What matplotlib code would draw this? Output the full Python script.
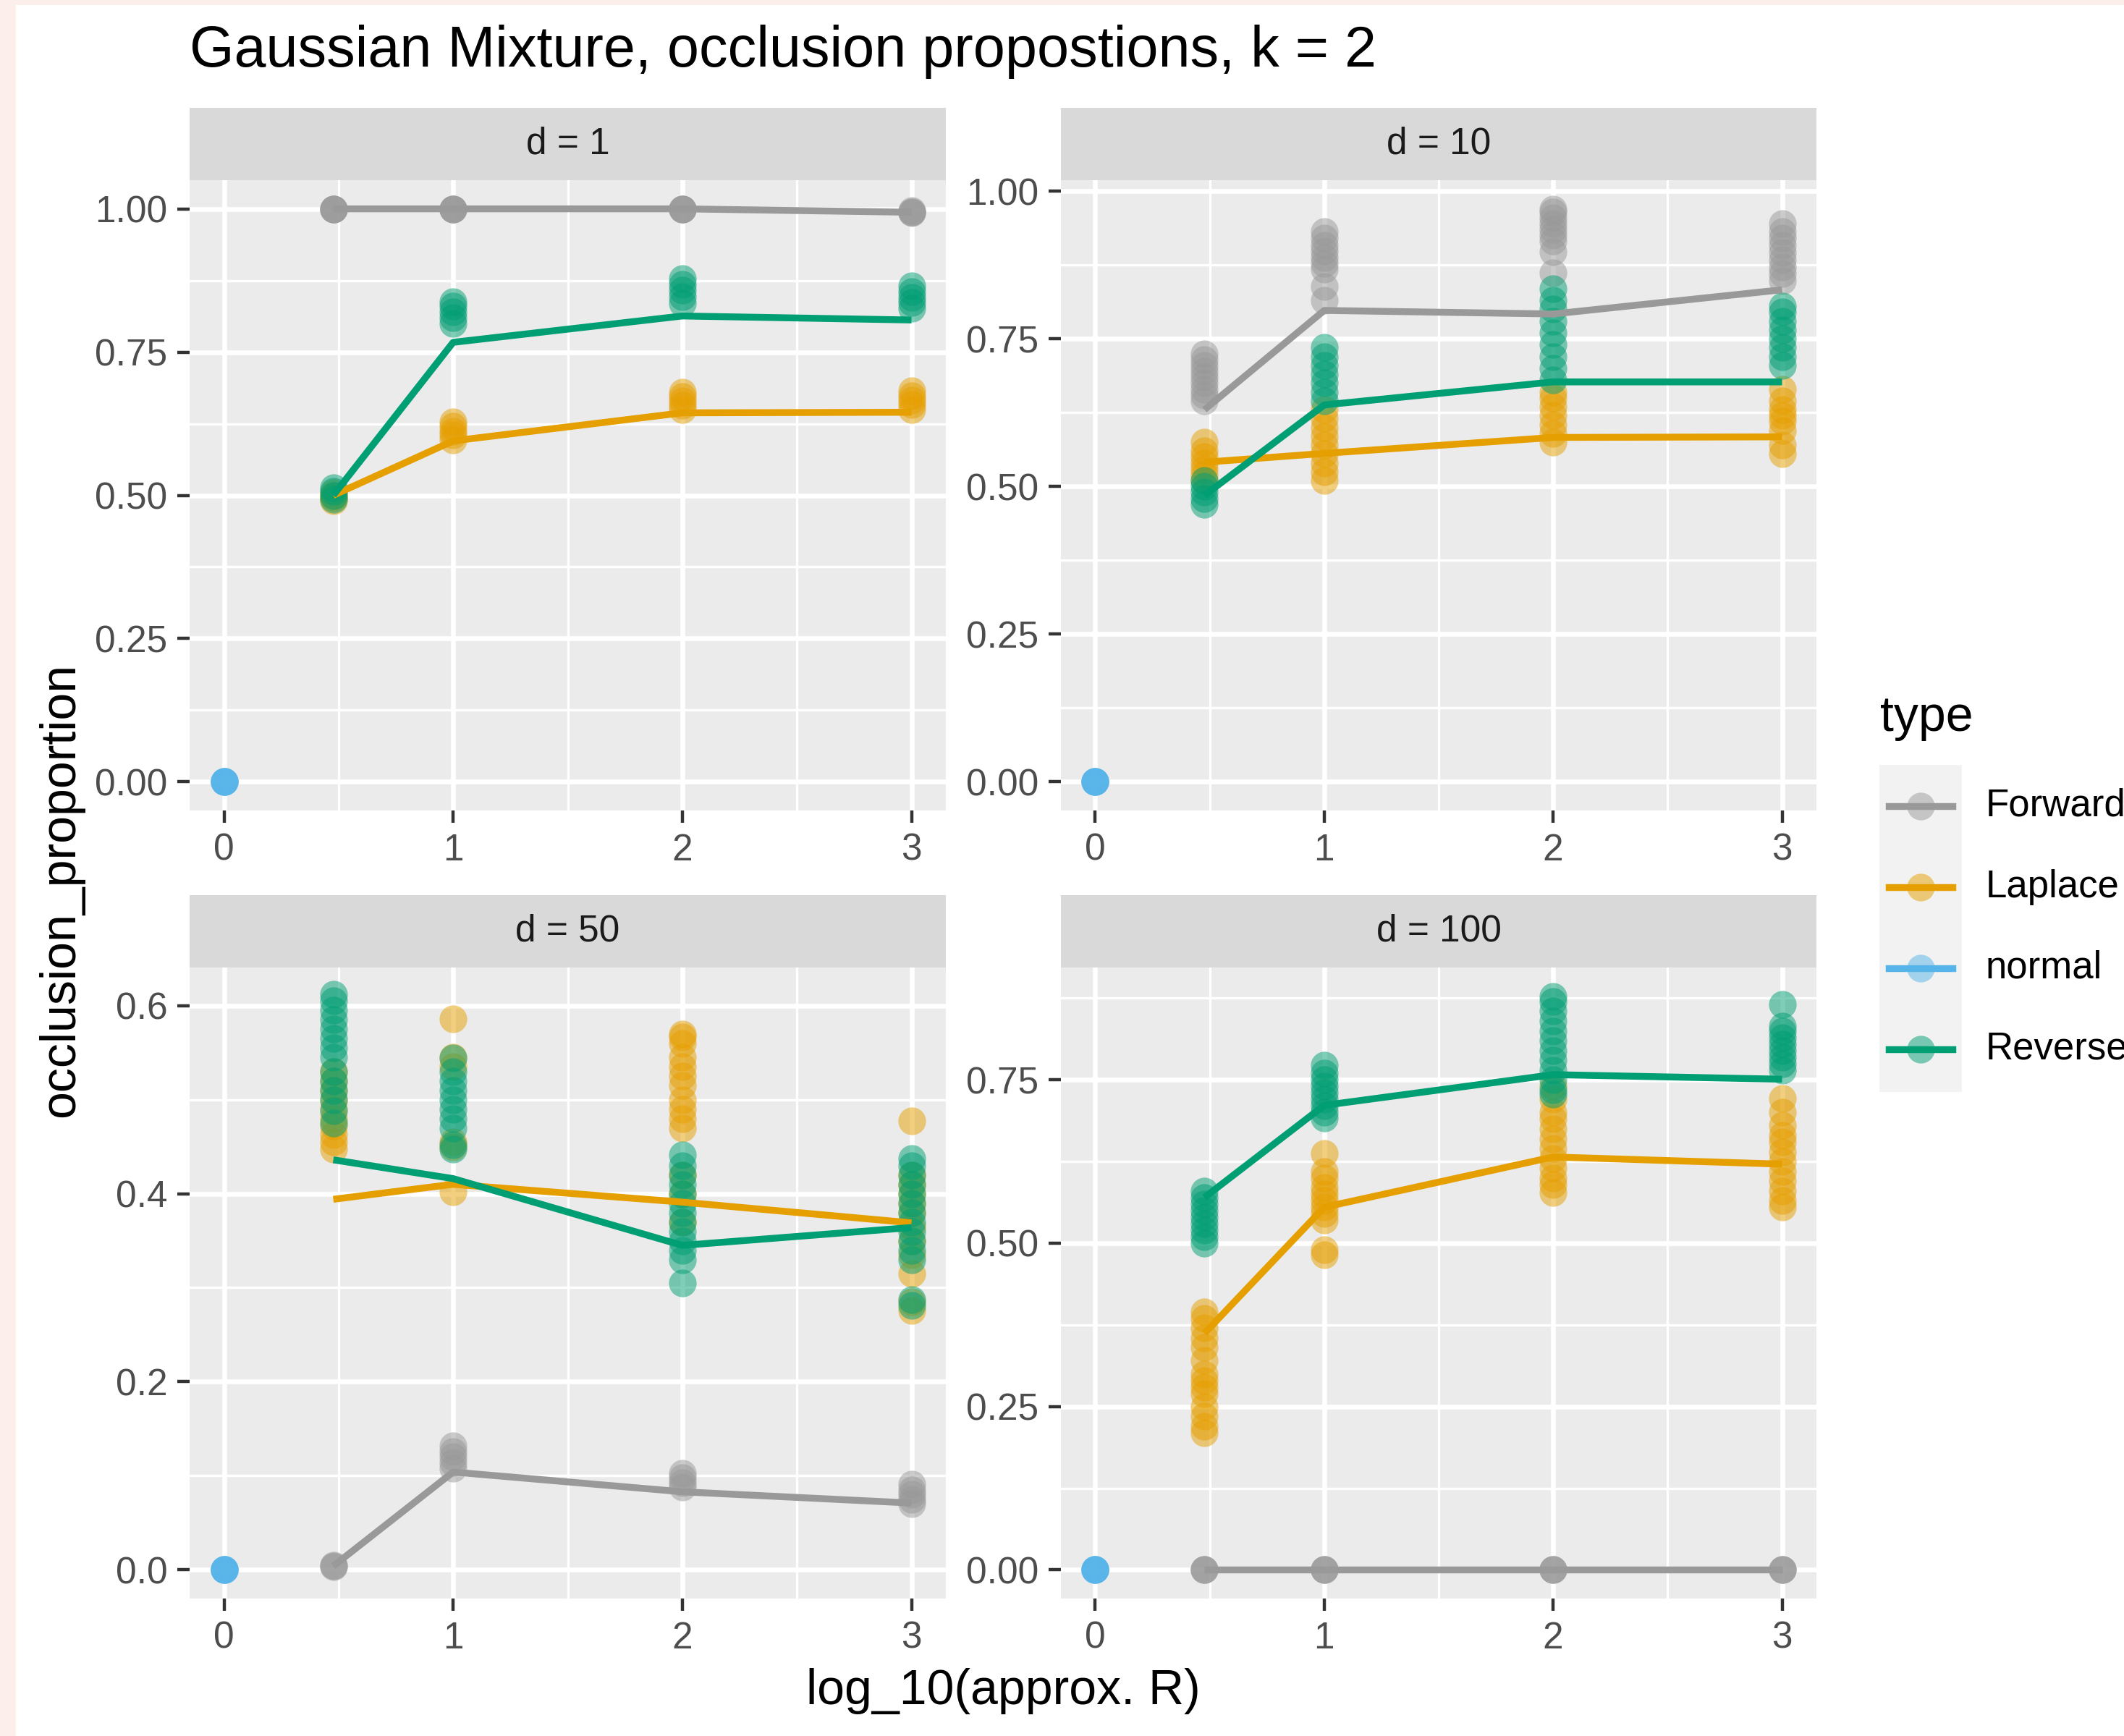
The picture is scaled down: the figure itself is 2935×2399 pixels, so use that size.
"""
Gaussian mixture occlusion proportions, k = 2 (four facets by d)
"""
import matplotlib
matplotlib.use("Agg")
import matplotlib.pyplot as plt
from matplotlib.patches import Rectangle
from matplotlib.lines import Line2D

plt.rcParams['font.family'] = ['Liberation Sans', 'DejaVu Sans']

# log_10(approx. R) positions of the replicate columns
x_levels = [0.477, 1.0, 2.0, 3.0]
types = ["Forward", "Laplace", "normal", "Reverse"]
colors = {"Forward": "#999999", "Laplace": "#E69F00",
          "normal": "#56B4E9", "Reverse": "#009E73"}

# "normal" is one column at x = 0, y = 0 in every panel
normal_pts = [0.0, 0.0, 0.0, 0.0, 0.0]

# ---- d = 1 ----
d1_forward_pts = [[1.0, 1.0, 1.0, 1.0], [1.0, 1.0, 1.0, 1.0],
                  [1.0, 1.0, 1.0, 1.0], [0.993, 0.995, 0.997, 0.995]]
d1_forward_mean = [1.0, 1.0, 1.0, 0.994]
d1_laplace_pts = [[0.49, 0.495, 0.50, 0.505],
                  [0.597, 0.605, 0.612, 0.62, 0.628],
                  [0.65, 0.657, 0.665, 0.672, 0.68],
                  [0.65, 0.658, 0.666, 0.674, 0.682]]
d1_laplace_mean = [0.50, 0.595, 0.644, 0.645]
d1_reverse_pts = [[0.493, 0.50, 0.507, 0.513],
                  [0.80, 0.81, 0.82, 0.83, 0.838],
                  [0.835, 0.847, 0.858, 0.868, 0.878],
                  [0.826, 0.836, 0.846, 0.856, 0.866]]
d1_reverse_mean = [0.50, 0.767, 0.813, 0.806]

# ---- d = 10 ----
d10_forward_pts = [[0.645, 0.655, 0.665, 0.675, 0.685, 0.695, 0.705, 0.715, 0.725],
                   [0.815, 0.838, 0.868, 0.878, 0.888, 0.898, 0.908, 0.92, 0.932],
                   [0.862, 0.897, 0.915, 0.925, 0.935, 0.945, 0.955, 0.965, 0.97],
                   [0.848, 0.86, 0.872, 0.884, 0.896, 0.908, 0.92, 0.932, 0.945]]
d10_forward_mean = [0.630, 0.798, 0.792, 0.833]
d10_laplace_pts = [[0.51, 0.52, 0.53, 0.54, 0.55, 0.56, 0.575],
                   [0.51, 0.525, 0.54, 0.555, 0.57, 0.585, 0.60, 0.615, 0.63],
                   [0.575, 0.59, 0.605, 0.62, 0.635, 0.65, 0.66],
                   [0.555, 0.57, 0.595, 0.61, 0.62, 0.63, 0.645, 0.665]]
d10_laplace_mean = [0.541, 0.556, 0.583, 0.584]
d10_reverse_pts = [[0.47, 0.48, 0.49, 0.50, 0.51],
                   [0.645, 0.66, 0.675, 0.69, 0.705, 0.72, 0.735],
                   [0.68, 0.70, 0.72, 0.74, 0.76, 0.78, 0.80, 0.815, 0.835],
                   [0.705, 0.72, 0.735, 0.75, 0.765, 0.78, 0.795, 0.805]]
d10_reverse_mean = [0.485, 0.638, 0.677, 0.677]

# ---- d = 50 ----
d50_forward_pts = [[0.003, 0.004, 0.005],
                   [0.108, 0.114, 0.12, 0.126, 0.132],
                   [0.088, 0.093, 0.098, 0.103],
                   [0.07, 0.075, 0.08, 0.085, 0.091]]
d50_forward_mean = [0.004, 0.104, 0.083, 0.071]
d50_laplace_pts = [[0.447, 0.455, 0.463, 0.472, 0.48, 0.49, 0.50, 0.51, 0.52, 0.53],
                   [0.402, 0.45, 0.455, 0.535, 0.545, 0.586],
                   [0.37, 0.40, 0.42, 0.47, 0.48, 0.49, 0.50, 0.515, 0.525,
                    0.535, 0.545, 0.56, 0.567, 0.57],
                   [0.276, 0.285, 0.315, 0.335, 0.35, 0.365, 0.38, 0.39,
                    0.40, 0.41, 0.42, 0.477]]
d50_laplace_mean = [0.394, 0.410, 0.391, 0.369]
d50_reverse_pts = [[0.475, 0.488, 0.50, 0.51, 0.52, 0.53, 0.545, 0.555, 0.565,
                    0.575, 0.585, 0.595, 0.605, 0.612],
                   [0.447, 0.452, 0.47, 0.48, 0.49, 0.50, 0.51, 0.52, 0.53, 0.544],
                   [0.305, 0.33, 0.34, 0.35, 0.36, 0.37, 0.38, 0.39, 0.40,
                    0.41, 0.42, 0.43, 0.441],
                   [0.281, 0.287, 0.33, 0.34, 0.35, 0.36, 0.37, 0.38, 0.39,
                    0.40, 0.41, 0.42, 0.43, 0.437]]
d50_reverse_mean = [0.436, 0.416, 0.345, 0.364]

# ---- d = 100 ----
d100_forward_pts = [[0.0, 0.0, 0.0], [0.0, 0.0, 0.0],
                    [0.0, 0.0, 0.0], [0.0, 0.0, 0.0]]
d100_forward_mean = [0.0, 0.0, 0.0, 0.0]
d100_laplace_pts = [[0.21, 0.22, 0.235, 0.25, 0.27, 0.28, 0.29, 0.30, 0.32,
                     0.34, 0.355, 0.37, 0.385, 0.395],
                    [0.482, 0.49, 0.535, 0.545, 0.555, 0.565, 0.575, 0.585,
                     0.60, 0.61, 0.637],
                    [0.578, 0.59, 0.60, 0.615, 0.63, 0.645, 0.66, 0.675,
                     0.69, 0.70, 0.72, 0.74],
                    [0.555, 0.565, 0.58, 0.595, 0.61, 0.625, 0.64, 0.655,
                     0.665, 0.68, 0.70, 0.722]]
d100_laplace_mean = [0.362, 0.555, 0.632, 0.621]
d100_reverse_pts = [[0.50, 0.51, 0.52, 0.53, 0.54, 0.55, 0.56, 0.57, 0.58],
                    [0.692, 0.70, 0.71, 0.72, 0.73, 0.74, 0.75, 0.76, 0.772],
                    [0.728, 0.735, 0.75, 0.765, 0.78, 0.795, 0.81, 0.825,
                     0.84, 0.855, 0.87, 0.878],
                    [0.765, 0.775, 0.785, 0.795, 0.805, 0.815, 0.825, 0.832, 0.866]]
d100_reverse_mean = [0.570, 0.711, 0.758, 0.751]

x_ticks = [0, 1, 2, 3]
y_ticks_a = [0.0, 0.25, 0.5, 0.75, 1.0]
y_labels_a = ["0.00", "0.25", "0.50", "0.75", "1.00"]
y_ticks_b = [0.0, 0.2, 0.4, 0.6]
y_labels_b = ["0.0", "0.2", "0.4", "0.6"]
y_ticks_c = [0.0, 0.25, 0.5, 0.75]
y_labels_c = ["0.00", "0.25", "0.50", "0.75"]

W, H = 2935, 2399
fig = plt.figure(figsize=(W / 200, H / 200), dpi=200)
fig.patch.set_facecolor("white")
# faint pink frame left over from the screenshot
fig.patches.append(Rectangle((0, 0), 20 / W, 1, transform=fig.transFigure,
                             color="#FCEEEA", zorder=0))
fig.patches.append(Rectangle((0, 1 - 5 / H), 1, 5 / H, transform=fig.transFigure,
                             color="#FCEEEA", zorder=0))

PT_SIZE = 190
LINE_W = 3.4
TICK_FS = 18.5


def draw_panel(rect, strip_label, ylim, yticks, ylabels, forward, laplace, reverse):
    left, bottom, width, height = rect
    ax = fig.add_axes(rect)
    ax.set_facecolor("#EBEBEB")
    for s in ax.spines.values():
        s.set_visible(False)
    ax.set_xticks(x_ticks)
    ax.set_xticks([0.5, 1.5, 2.5], minor=True)
    ax.set_yticks(yticks)
    ax.set_yticklabels(ylabels)
    step = yticks[1] - yticks[0]
    minor_y = [t + step / 2 for t in yticks if t + step / 2 < ylim[1]]
    ax.set_yticks(minor_y, minor=True)
    ax.set_xlim(-0.15, 3.15)
    ax.set_ylim(*ylim)
    ax.grid(which="major", color="white", lw=2.4, zorder=0)
    ax.grid(which="minor", color="white", lw=1.2, zorder=0)
    ax.set_axisbelow(True)
    ax.tick_params(which="major", length=6, width=1.6, color="#333333",
                   labelcolor="#4D4D4D", labelsize=TICK_FS, pad=5)
    ax.tick_params(which="minor", length=0)

    # points first, then mean lines
    for name, (pts, _) in zip(["Forward", "Laplace", "Reverse"],
                              [forward, laplace, reverse]):
        for x, vals in zip(x_levels, pts):
            ax.scatter([x] * len(vals), vals, s=PT_SIZE, color=colors[name],
                       alpha=0.5, lw=0, zorder=3)
    ax.scatter([0] * len(normal_pts), normal_pts, s=PT_SIZE,
               color=colors["normal"], alpha=0.5, lw=0, zorder=3)
    for name, (_, means) in zip(["Forward", "Laplace", "Reverse"],
                                [forward, laplace, reverse]):
        ax.plot(x_levels, means, color=colors[name], lw=LINE_W, zorder=4,
                solid_capstyle="butt")

    strip_h = 100 / H
    sax = fig.add_axes([left, bottom + height, width, strip_h])
    sax.set_facecolor("#D9D9D9")
    sax.set_xticks([])
    sax.set_yticks([])
    for s in sax.spines.values():
        s.set_visible(False)
    sax.text(0.5, 0.5, strip_label, ha="center", va="center",
             fontsize=TICK_FS, color="#1A1A1A", transform=sax.transAxes)
    return ax


col_l = (262 / W, 1307 / W)
col_r = (1466 / W, 2510 / W)
row_t = (1 - 1120 / H, 1 - 249 / H)
row_b = (1 - 2209 / H, 1 - 1337 / H)


def rect(col, row):
    return [col[0], row[0], col[1] - col[0], row[1] - row[0]]


draw_panel(rect(col_l, row_t), "d = 1", (-0.05, 1.05), y_ticks_a, y_labels_a,
           (d1_forward_pts, d1_forward_mean), (d1_laplace_pts, d1_laplace_mean),
           (d1_reverse_pts, d1_reverse_mean))
draw_panel(rect(col_r, row_t), "d = 10", (-0.0485, 1.0185), y_ticks_a, y_labels_a,
           (d10_forward_pts, d10_forward_mean), (d10_laplace_pts, d10_laplace_mean),
           (d10_reverse_pts, d10_reverse_mean))
draw_panel(rect(col_l, row_b), "d = 50", (-0.0305, 0.6405), y_ticks_b, y_labels_b,
           (d50_forward_pts, d50_forward_mean), (d50_laplace_pts, d50_laplace_mean),
           (d50_reverse_pts, d50_reverse_mean))
draw_panel(rect(col_r, row_b), "d = 100", (-0.0439, 0.922), y_ticks_c, y_labels_c,
           (d100_forward_pts, d100_forward_mean), (d100_laplace_pts, d100_laplace_mean),
           (d100_reverse_pts, d100_reverse_mean))

# titles
fig.text(262 / W, 1 - 92 / H, "Gaussian Mixture, occlusion propostions, k = 2",
         ha="left", va="baseline", fontsize=28.5, color="black")
fig.text((262 + 2510) / 2 / W, 1 - 2337 / H, "log_10(approx. R)",
         ha="center", va="center", fontsize=24.5, color="black")
fig.text(84 / W, 1 - 1230 / H, "occlusion_proportion", rotation=90,
         ha="center", va="center", fontsize=24.5, color="black")

# legend, drawn ggplot style
lax = fig.add_axes([0, 0, 1, 1], facecolor="none")
lax.set_xlim(0, W)
lax.set_ylim(H, 0)
lax.axis("off")
lax.text(2598, 992, "type", ha="left", va="center", fontsize=24.5, color="black")
lax.add_patch(Rectangle((2598, 1058), 111, 449, color="#F2F2F2", zorder=1))
key_y = [1114, 1226, 1338, 1450]
for name, ky in zip(types, key_y):
    lax.add_line(Line2D([2610, 2698], [ky, ky], color=colors[name], lw=LINE_W,
                        zorder=2))
    lax.scatter([2654], [ky], s=PT_SIZE, color=colors[name], alpha=0.5, lw=0,
                zorder=3)
    lax.text(2744, ky, name, ha="left", va="center", fontsize=19,
             color="black")

fig.savefig("out.png", dpi=200)
